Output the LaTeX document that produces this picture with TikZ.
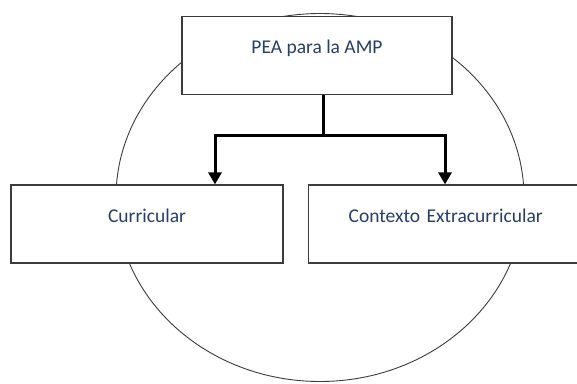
\documentclass[tikz,border=0pt]{standalone}
\usepackage{fontspec}
\setmainfont{Carlito}
\usepackage{xcolor}
\usetikzlibrary{arrows.meta,positioning}
\definecolor{txtblue}{RGB}{36,62,110}
\definecolor{rimgray}{RGB}{60,60,60}

\tikzset{
    box/.style={draw=rimgray, line width=1.2pt, fill=white, text=txtblue,
        inner ysep=0pt, inner xsep=0pt, text height=37pt, text depth=41pt,
        font=\fontsize{19.5}{23}\selectfont},
    link/.style={line width=3pt, black},
    tip/.style={-{Triangle[width=13pt,length=12pt]}}
}

\begin{document}
\begin{tikzpicture}[x=1pt, y=-1pt]
                        \useasboundingbox (0, 0) rectangle (577, 383);
                        \clip (0, 0) rectangle (577, 383);
                        \fill[white] (0, 0) rectangle (577, 383);

                        \draw[rimgray, line width=0.9pt] (320, 197.5) ellipse [x radius=204pt, y radius=184pt];

                        \node[box, minimum width=270pt] (pea) at (317, 55.5) {PEA para la AMP};
                        \node[box, minimum width=272pt] (cur) at (147, 224) {Curricular};
                        \node[box, anchor=west, inner xsep=40pt, text width=220pt, align=left] (ext) at (308, 224) {Contexto Extracurricular};

                        \coordinate (split) at (323, 135);
                        \coordinate (jl) at (215, 135);
                        \coordinate (jr) at (445, 135);

                        \draw[link] (pea.south -| split) -- (split);
                        \draw[link, tip] (split) -- (jl) -- (jl |- cur.north);
                        \draw[link, tip] (split) -- (jr) -- (jr |- ext.north);
                    \end{tikzpicture}
\end{document}
